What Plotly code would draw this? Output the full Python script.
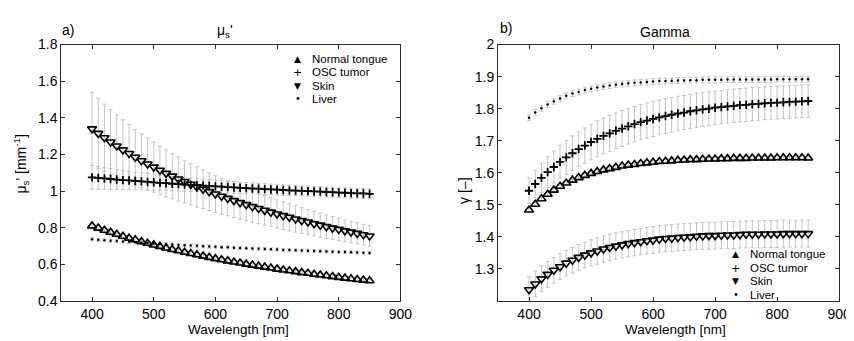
import plotly.graph_objects as go

# ---------------- data ----------------
wavelength = list(range(400, 851, 10))

x_ticks = [400, 500, 600, 700, 800, 900]
mus_ticks = [0.4, 0.6, 0.8, 1.0, 1.2, 1.4, 1.6, 1.8]
mus_ticktext = ["0.4", "0.6", "0.8", "1", "1.2", "1.4", "1.6", "1.8"]
gam_ticks = [1.3, 1.4, 1.5, 1.6, 1.7, 1.8, 1.9, 2.0]
gam_ticktext = ["1.3", "1.4", "1.5", "1.6", "1.7", "1.8", "1.9", "2"]

series_names = ["Normal tongue", "OSC tumor", "Skin", "Liver"]

# reduced scattering coefficient mu_s' [mm^-1]
mus_tongue = [0.810, 0.798, 0.786, 0.775, 0.764, 0.753, 0.743, 0.734, 0.724, 0.715,
              0.706, 0.698, 0.689, 0.681, 0.674, 0.666, 0.659, 0.652, 0.645, 0.638,
              0.631, 0.625, 0.619, 0.613, 0.607, 0.601, 0.596, 0.590, 0.585, 0.580,
              0.574, 0.569, 0.565, 0.560, 0.555, 0.551, 0.546, 0.542, 0.538, 0.533,
              0.529, 0.525, 0.521, 0.517, 0.514, 0.510]
mus_osc = [1.075, 1.072, 1.069, 1.066, 1.063, 1.060, 1.058, 1.055, 1.053, 1.050,
           1.048, 1.045, 1.043, 1.040, 1.038, 1.036, 1.034, 1.032, 1.030, 1.028,
           1.026, 1.024, 1.022, 1.020, 1.018, 1.016, 1.014, 1.013, 1.011, 1.009,
           1.008, 1.006, 1.004, 1.003, 1.001, 1.000, 0.998, 0.997, 0.995, 0.994,
           0.992, 0.991, 0.989, 0.988, 0.987, 0.985]
mus_skin = [1.340, 1.315, 1.291, 1.268, 1.246, 1.225, 1.205, 1.185, 1.166, 1.148,
            1.131, 1.114, 1.097, 1.082, 1.066, 1.052, 1.037, 1.023, 1.010, 0.997,
            0.984, 0.972, 0.960, 0.948, 0.937, 0.926, 0.915, 0.905, 0.895, 0.885,
            0.875, 0.866, 0.857, 0.848, 0.839, 0.831, 0.822, 0.814, 0.806, 0.798,
            0.791, 0.783, 0.776, 0.769, 0.762, 0.755]
mus_liver = [0.737, 0.734, 0.732, 0.729, 0.727, 0.725, 0.723, 0.720, 0.718, 0.716,
             0.714, 0.712, 0.710, 0.708, 0.706, 0.704, 0.703, 0.701, 0.699, 0.697,
             0.696, 0.694, 0.693, 0.691, 0.689, 0.688, 0.686, 0.685, 0.684, 0.682,
             0.681, 0.679, 0.678, 0.677, 0.675, 0.674, 0.673, 0.672, 0.670, 0.669,
             0.668, 0.667, 0.666, 0.665, 0.663, 0.662]

mus_tongue_err = [0.014, 0.014, 0.014, 0.014, 0.013, 0.013, 0.013, 0.013, 0.013, 0.013,
                  0.012, 0.012, 0.012, 0.012, 0.012, 0.012, 0.012, 0.012, 0.011, 0.011,
                  0.011, 0.011, 0.011, 0.011, 0.011, 0.011, 0.011, 0.011, 0.011, 0.010,
                  0.010, 0.010, 0.010, 0.010, 0.010, 0.010, 0.010, 0.010, 0.010, 0.010,
                  0.010, 0.010, 0.010, 0.010, 0.010, 0.010]
mus_osc_err = [0.065, 0.062, 0.059, 0.057, 0.054, 0.052, 0.050, 0.048, 0.046, 0.045,
               0.043, 0.042, 0.040, 0.039, 0.038, 0.037, 0.036, 0.035, 0.035, 0.034,
               0.033, 0.033, 0.032, 0.032, 0.031, 0.031, 0.030, 0.030, 0.030, 0.029,
               0.029, 0.029, 0.029, 0.028, 0.028, 0.028, 0.028, 0.028, 0.027, 0.027,
               0.027, 0.027, 0.027, 0.027, 0.027, 0.027]
mus_skin_err = [0.200, 0.192, 0.184, 0.177, 0.170, 0.164, 0.158, 0.152, 0.147, 0.142,
                0.137, 0.132, 0.128, 0.124, 0.120, 0.116, 0.113, 0.110, 0.106, 0.103,
                0.100, 0.098, 0.095, 0.092, 0.090, 0.088, 0.085, 0.083, 0.081, 0.079,
                0.077, 0.075, 0.074, 0.072, 0.070, 0.069, 0.067, 0.066, 0.064, 0.063,
                0.062, 0.060, 0.059, 0.058, 0.057, 0.056]
mus_liver_err = [0.009, 0.009, 0.009, 0.009, 0.009, 0.009, 0.009, 0.009, 0.009, 0.009,
                 0.009, 0.009, 0.009, 0.009, 0.009, 0.009, 0.009, 0.009, 0.009, 0.009,
                 0.008, 0.008, 0.008, 0.008, 0.008, 0.008, 0.008, 0.008, 0.008, 0.008,
                 0.008, 0.008, 0.008, 0.008, 0.008, 0.008, 0.008, 0.008, 0.008, 0.008,
                 0.008, 0.008, 0.008, 0.008, 0.008, 0.008]

# phase function parameter gamma [-]
gam_tongue = [1.484, 1.502, 1.519, 1.533, 1.546, 1.558, 1.568, 1.577, 1.585, 1.592,
              1.598, 1.604, 1.609, 1.613, 1.617, 1.621, 1.624, 1.626, 1.629, 1.631,
              1.633, 1.635, 1.636, 1.637, 1.639, 1.640, 1.641, 1.641, 1.642, 1.643,
              1.643, 1.644, 1.644, 1.645, 1.645, 1.645, 1.646, 1.646, 1.646, 1.646,
              1.647, 1.647, 1.647, 1.647, 1.647, 1.646]
gam_osc = [1.544, 1.565, 1.584, 1.602, 1.618, 1.634, 1.648, 1.661, 1.674, 1.685,
           1.696, 1.706, 1.715, 1.723, 1.731, 1.738, 1.745, 1.752, 1.758, 1.763,
           1.768, 1.773, 1.777, 1.781, 1.785, 1.788, 1.792, 1.795, 1.798, 1.800,
           1.803, 1.805, 1.807, 1.809, 1.811, 1.812, 1.814, 1.815, 1.817, 1.818,
           1.819, 1.820, 1.821, 1.822, 1.823, 1.824]
gam_skin = [1.235, 1.253, 1.269, 1.283, 1.296, 1.307, 1.318, 1.327, 1.336, 1.343,
            1.350, 1.356, 1.362, 1.367, 1.371, 1.375, 1.379, 1.382, 1.385, 1.388,
            1.390, 1.393, 1.395, 1.396, 1.398, 1.399, 1.400, 1.402, 1.403, 1.404,
            1.404, 1.405, 1.406, 1.406, 1.407, 1.408, 1.408, 1.408, 1.409, 1.409,
            1.409, 1.410, 1.410, 1.410, 1.410, 1.410]
gam_liver = [1.772, 1.788, 1.801, 1.813, 1.823, 1.832, 1.840, 1.847, 1.852, 1.858,
             1.862, 1.866, 1.869, 1.872, 1.875, 1.877, 1.879, 1.881, 1.882, 1.883,
             1.885, 1.886, 1.886, 1.887, 1.888, 1.888, 1.889, 1.889, 1.890, 1.890,
             1.890, 1.890, 1.891, 1.891, 1.891, 1.891, 1.891, 1.891, 1.891, 1.891,
             1.892, 1.892, 1.892, 1.892, 1.892, 1.892]

gam_tongue_err = [0.006, 0.006, 0.006, 0.006, 0.006, 0.006, 0.006, 0.006, 0.006, 0.006,
                  0.006, 0.006, 0.006, 0.006, 0.006, 0.006, 0.006, 0.006, 0.006, 0.006,
                  0.006, 0.006, 0.006, 0.006, 0.006, 0.006, 0.006, 0.006, 0.006, 0.006,
                  0.006, 0.006, 0.006, 0.006, 0.006, 0.006, 0.006, 0.006, 0.006, 0.006,
                  0.006, 0.006, 0.006, 0.006, 0.006, 0.006]
gam_osc_err = [0.040, 0.043, 0.046, 0.048, 0.050, 0.052, 0.053, 0.054, 0.055, 0.055,
               0.056, 0.056, 0.056, 0.056, 0.056, 0.056, 0.055, 0.055, 0.055, 0.055,
               0.055, 0.054, 0.054, 0.054, 0.054, 0.053, 0.053, 0.053, 0.053, 0.053,
               0.052, 0.052, 0.052, 0.052, 0.052, 0.052, 0.052, 0.051, 0.051, 0.051,
               0.051, 0.051, 0.051, 0.051, 0.051, 0.051]
gam_skin_err = [0.040, 0.040, 0.040, 0.040, 0.040, 0.040, 0.040, 0.040, 0.040, 0.040,
                0.041, 0.041, 0.041, 0.041, 0.041, 0.041, 0.041, 0.041, 0.041, 0.041,
                0.042, 0.042, 0.042, 0.042, 0.042, 0.042, 0.042, 0.042, 0.042, 0.042,
                0.042, 0.042, 0.042, 0.042, 0.042, 0.042, 0.042, 0.042, 0.042, 0.042,
                0.042, 0.042, 0.042, 0.042, 0.042, 0.042]
gam_liver_err = [0.009, 0.009, 0.009, 0.009, 0.009, 0.009, 0.009, 0.009, 0.009, 0.009,
                 0.009, 0.009, 0.009, 0.009, 0.009, 0.009, 0.009, 0.009, 0.009, 0.009,
                 0.009, 0.009, 0.009, 0.009, 0.009, 0.009, 0.009, 0.009, 0.009, 0.009,
                 0.009, 0.009, 0.009, 0.009, 0.009, 0.009, 0.009, 0.009, 0.009, 0.009,
                 0.009, 0.009, 0.009, 0.009, 0.009, 0.009]

# ---------------- styling ----------------
W, H = 854, 341
FONT = "Liberation Sans, Arial, Helvetica, sans-serif"
ERR_COLOR = "#c4c4c4"
AX_COLOR = "#2a2a2a"

styles = [
    dict(symbol="triangle-up-open", size=8, line=dict(width=1.6, color="black"), color="black"),
    dict(symbol="cross-thin-open", size=6, line=dict(width=1.8, color="black"), color="black"),
    dict(symbol="triangle-down-open", size=8, line=dict(width=1.6, color="black"), color="black"),
    dict(symbol="circle", size=2.5, line=dict(width=0), color="black"),
]
legend_glyphs = ["\u25B2", "+", "\u25BC", "\u2022"]
legend_glyph_sizes = [9, 11, 9, 10]


def px_x(p):
    return p / W


def px_y(p):
    return 1 - p / H


fig = go.Figure()

panels = [
    ("x", "y", [mus_tongue, mus_osc, mus_skin, mus_liver],
     [mus_tongue_err, mus_osc_err, mus_skin_err, mus_liver_err]),
    ("x2", "y2", [gam_tongue, gam_osc, gam_skin, gam_liver],
     [gam_tongue_err, gam_osc_err, gam_skin_err, gam_liver_err]),
]

# error bars first (grey, underneath every marker)
for xa, ya, vals, errs in panels:
    for name, v, e in zip(series_names, vals, errs):
        fig.add_trace(go.Scatter(
            x=wavelength, y=v, xaxis=xa, yaxis=ya, mode="markers",
            marker=dict(size=2, color="rgba(0,0,0,0)"),
            error_y=dict(type="data", array=e, color=ERR_COLOR, thickness=1, width=2),
            showlegend=False, hoverinfo="skip", name=name + " sd"))

# markers
for xa, ya, vals, errs in panels:
    for name, v, st in zip(series_names, vals, styles):
        fig.add_trace(go.Scatter(
            x=wavelength, y=v, xaxis=xa, yaxis=ya, mode="markers",
            marker=st, showlegend=False, name=name))

axis_common = dict(
    ticks="inside", ticklen=4, tickwidth=1, tickcolor=AX_COLOR,
    showline=True, linecolor=AX_COLOR, linewidth=1, mirror="allticks",
    showgrid=False, zeroline=False,
    tickfont=dict(family=FONT, size=14, color="black"),
)

y0, y1 = px_y(299), px_y(30)
fig.update_layout(
    width=W, height=H,
    margin=dict(l=0, r=0, t=0, b=0),
    paper_bgcolor="white", plot_bgcolor="white",
    showlegend=False,
    font=dict(family=FONT, size=14, color="black"),
    xaxis=dict(domain=[px_x(54), px_x(398)], range=[350, 900], tickvals=x_ticks,
               anchor="y", **axis_common),
    yaxis=dict(domain=[y0, y1], range=[0.4, 1.8], tickvals=mus_ticks,
               ticktext=mus_ticktext, anchor="x", **axis_common),
    xaxis2=dict(domain=[px_x(497), px_x(843)], range=[350, 900], tickvals=x_ticks,
                anchor="y2", **axis_common),
    yaxis2=dict(domain=[y0, y1], range=[1.2, 2.0], tickvals=gam_ticks,
                ticktext=gam_ticktext, anchor="x2", **axis_common),
)

ann = []


def text(x, y, s, size=14, xanchor="center", angle=0, family=FONT):
    ann.append(dict(x=px_x(x), y=px_y(y), xref="paper", yref="paper", text=s,
                    showarrow=False, xanchor=xanchor, yanchor="middle",
                    textangle=angle, font=dict(family=family, size=size, color="black")))


# panel labels and titles
text(53, 15, "a)", xanchor="left")
text(220, 16, "\u03bc<sub>s</sub>'")
text(497, 13, "b)", xanchor="left")
text(666, 17, "Gamma")

# axis titles
text(234, 329, "Wavelength [nm]", size=13.5)
text(677, 329, "Wavelength [nm]", size=13.5)
text(13, 155, "\u03bc<sub>s</sub>' [mm<sup>-1</sup>]", angle=-90)
text(463, 183, "\u03b3 [\u2013]", angle=-90)

# legends
for (gx, tx, ys) in [(294, 306, [45, 59, 73, 87]), (738, 751, [250, 264.5, 278.5, 292.5])]:
    for g, gs, name, yy in zip(legend_glyphs, legend_glyph_sizes, series_names, ys):
        text(gx, yy, g, size=gs, family="DejaVu Sans")
        text(tx, yy, name, size=11.5, xanchor="left")

fig.update_layout(annotations=ann)
fig.write_html("out.html")
